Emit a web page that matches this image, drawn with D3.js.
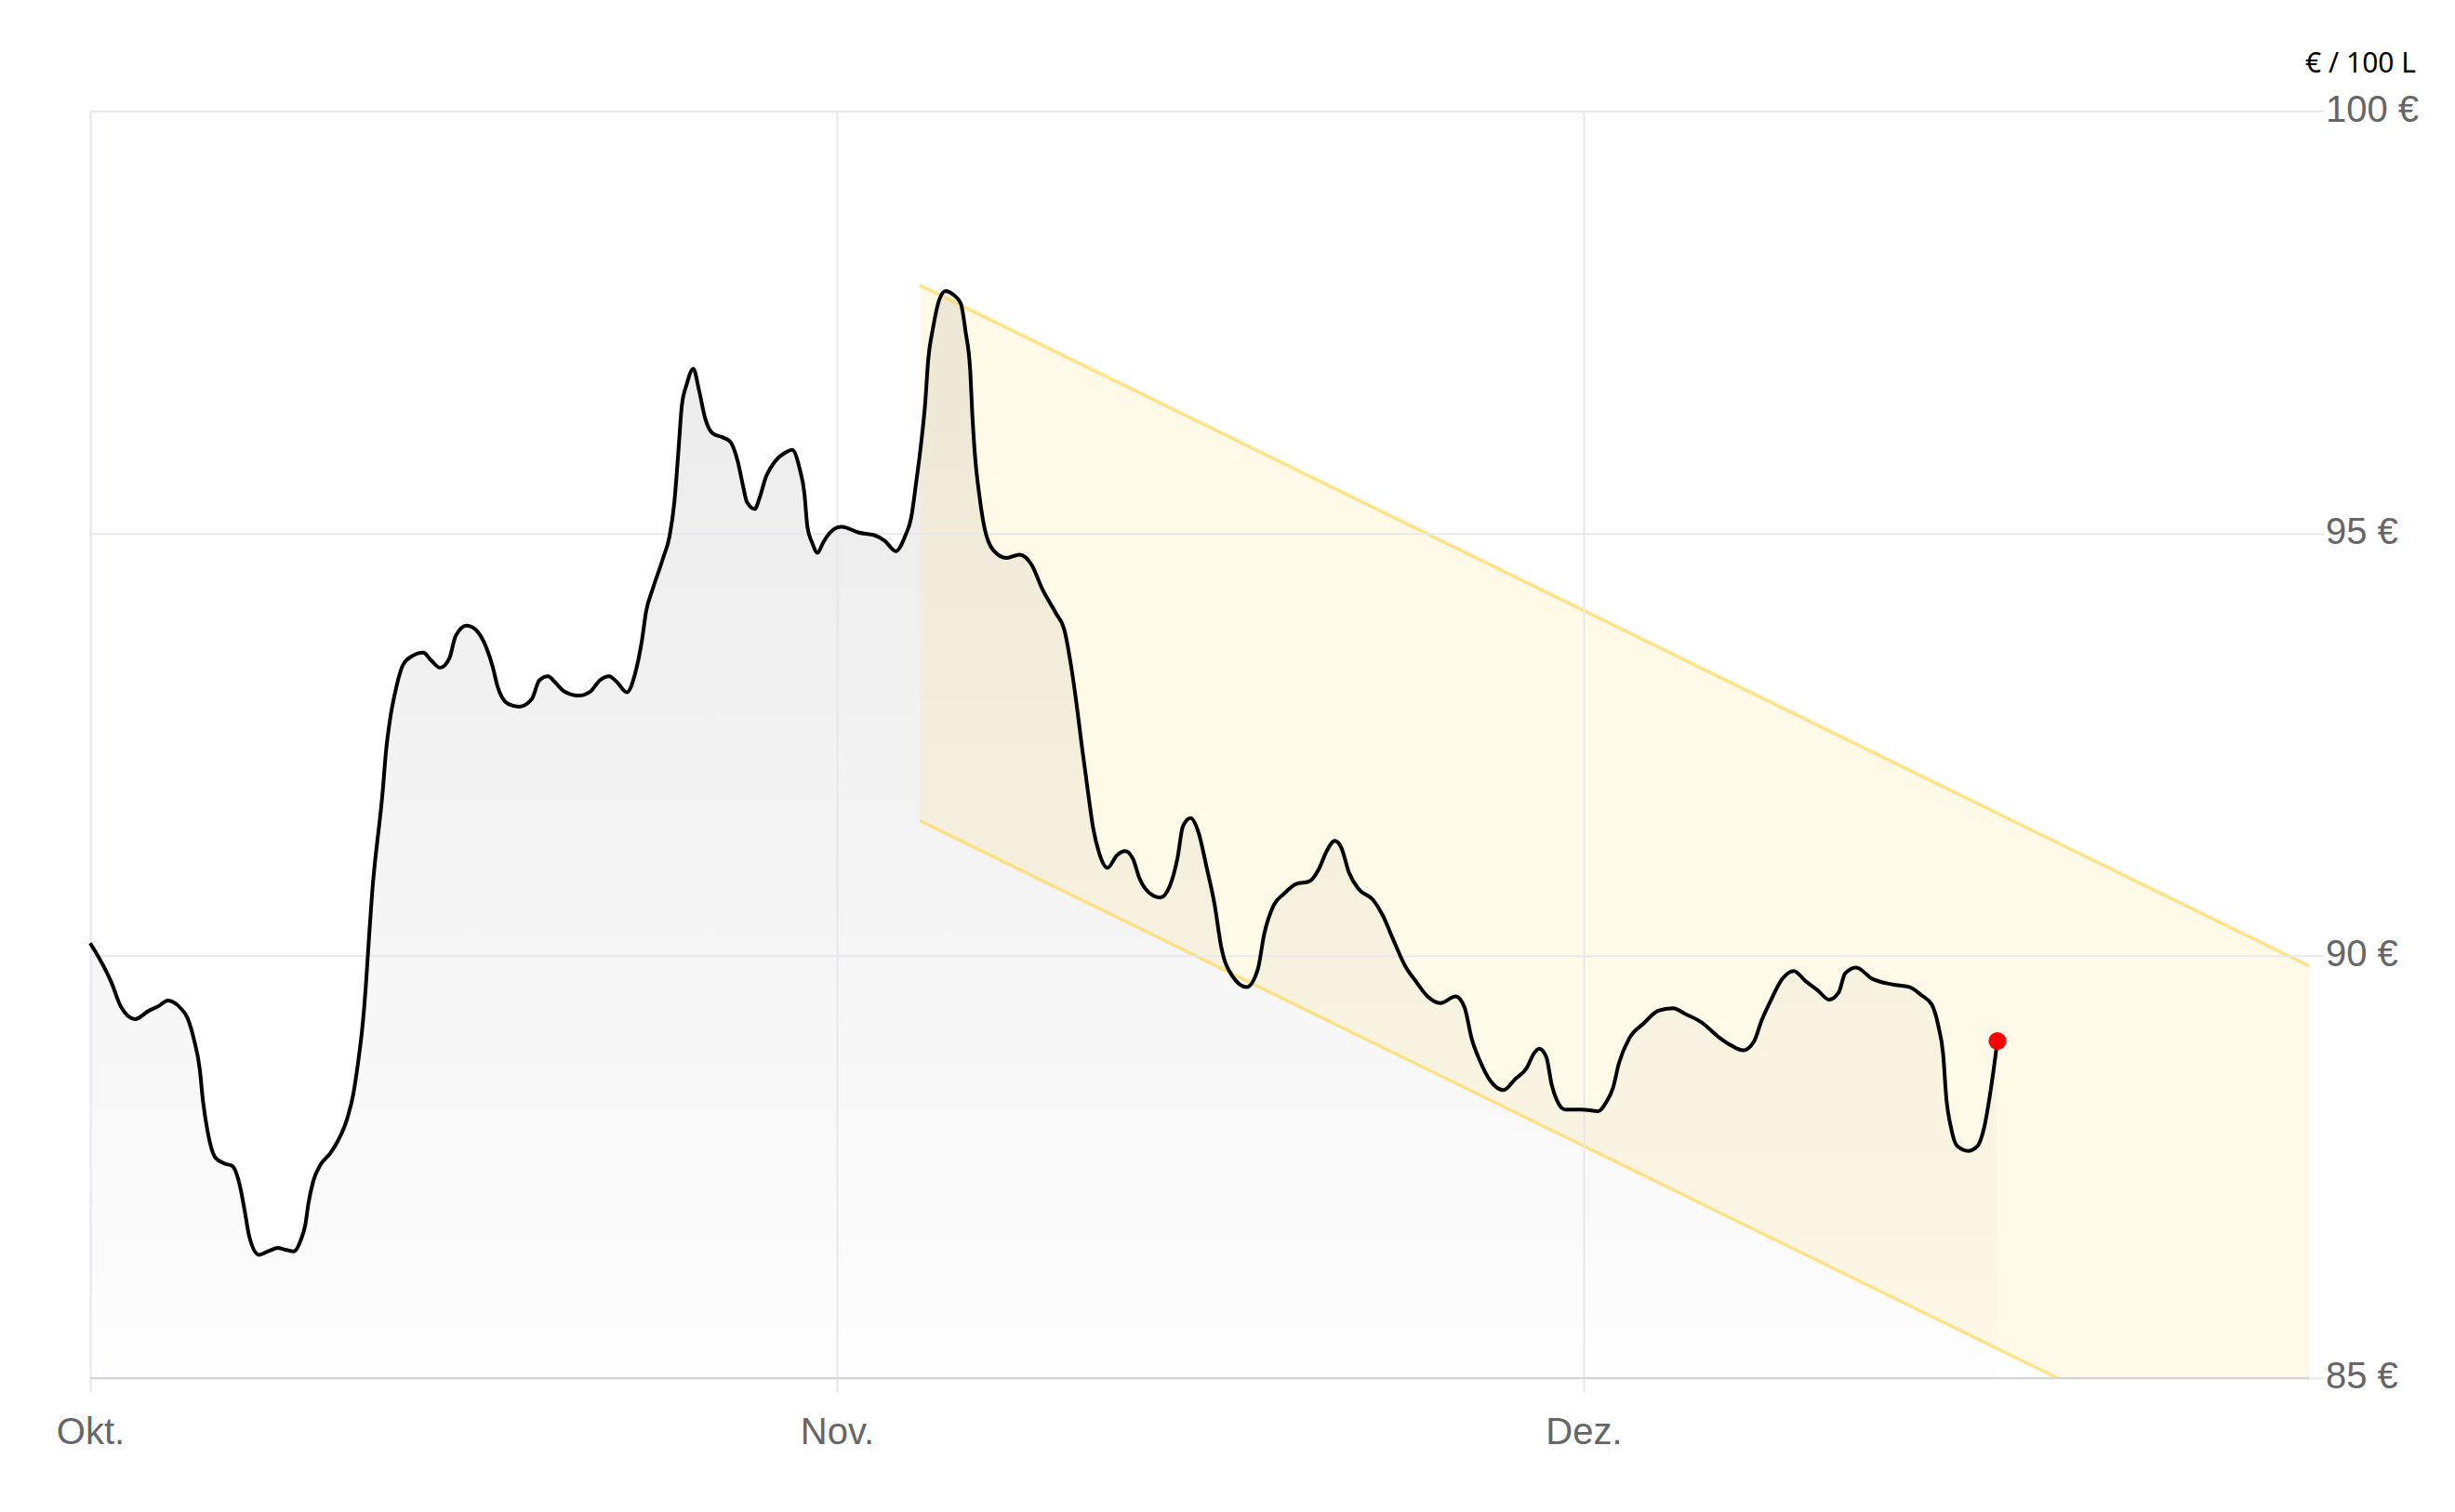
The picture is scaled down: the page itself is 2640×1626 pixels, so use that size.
<!DOCTYPE html>

<head>
  <meta charset="utf-8">
  <script src="https://d3js.org/d3.v7.min.js"></script>
  <style>
    body {
      margin: 0;
      background-color: #fff;
    }

    .tick text {
      font-family: "Liberation Sans", Arial, sans-serif;
      font-size: 40px;
      fill: #666;
    }

    .grid line {
      stroke: #e7e7ec;
      stroke-width: 2;
    }
  </style>
</head>

<body>
  <div id="graph"></div>
  <script>
    // trading day index (22 per month) and price in € / 100 L
    var dayIdx = [
      0, 0.63, 0.90, 1.32, 1.73, 2.00, 2.29, 2.64, 2.87, 3.05,
      3.23, 3.32, 3.46, 3.69, 3.96, 4.19, 4.42, 4.56, 4.69, 4.97,
      5.29, 5.52, 5.75, 6.00, 6.20, 6.34, 6.43, 6.57, 6.79, 7.07,
      7.30, 7.57, 7.75, 7.89, 8.03, 8.12, 8.21, 8.30,
      8.62, 8.71, 8.85, 9.03, 9.21, 9.49, 9.81, 10.04, 10.31, 10.58,
      10.77, 11.09, 11.36, 11.68, 11.86, 12.00, 12.32, 12.64, 13.01, 13.23,
      13.49, 13.69, 13.96, 14.38, 14.74, 15.01, 15.29, 15.52, 15.81, 16.06,
      16.25, 16.38, 16.57, 16.88, 17.07, 17.21, 17.32, 17.43, 17.57, 17.77,
      17.94, 18.12, 18.35, 18.62, 18.85, 19.08, 19.24, 19.35, 19.58, 19.72,
      19.90, 20.17, 20.49, 20.68, 20.90, 21.04, 21.13, 21.27, 21.43, 21.59,
      21.82, 22.00,
      22.14, 22.64, 23.10, 23.42, 23.73, 24.01, 24.19, 24.33, 24.47, 24.60,
      24.69, 24.83, 25.01, 25.20, 25.42, 25.65, 25.79, 25.93, 25.99, 26.06,
      26.20, 26.34, 26.61,
      27.00, 27.38, 27.75, 28.04, 28.46, 28.70, 28.88, 29.07, 29.21, 29.40,
      29.55, 29.73, 29.97, 30.25, 30.49, 30.72, 30.91, 31.19, 31.53, 31.81,
      32.04, 32.19, 32.42, 32.66, 32.89, 33.13, 33.32, 33.65, 34.07, 34.40,
      34.59, 34.87, 35.16, 35.53, 35.91, 36.19, 36.43, 36.67, 36.86, 37.09,
      37.37, 37.80, 38.08, 38.36, 38.74, 39.07, 39.40, 39.78, 40.23, 40.49,
      40.70, 40.94, 41.25, 41.64, 41.98, 42.32, 42.53, 42.69, 42.90, 43.06,
      43.21, 43.45, 43.94, 44.43, 44.67, 44.86, 45.04, 45.34, 45.77, 46.20,
      46.63, 47.00, 47.48, 47.97, 48.34, 48.70, 49.01, 49.25, 49.50, 49.86,
      50.19, 50.54, 50.90, 51.23, 51.52, 51.70, 52.03, 52.49, 53.10, 53.59,
      53.96, 54.26, 54.45, 54.59, 54.69, 54.81, 55.00, 55.34, 55.61, 55.79,
      56.00, 56.19
    ];

    var price = [
      90.15, 89.68, 89.40, 89.25, 89.35, 89.40, 89.47, 89.39, 89.26, 89.02,
      88.65, 88.29, 87.92, 87.61, 87.54, 87.51, 87.26, 86.96, 86.67, 86.46,
      86.51, 86.54, 86.52, 86.50, 86.63, 86.82, 87.07, 87.33, 87.53, 87.66,
      87.81, 88.07, 88.36, 88.73, 89.20, 89.64, 90.19, 90.71,
      91.96, 92.40, 92.84, 93.20, 93.44, 93.55, 93.59, 93.50, 93.41, 93.52,
      93.79, 93.91, 93.86, 93.64, 93.42, 93.19, 92.98, 92.95, 93.04, 93.26,
      93.31, 93.24, 93.13, 93.08, 93.13, 93.26, 93.31, 93.24, 93.12, 93.35,
      93.72, 94.08, 94.34, 94.71, 94.97, 95.37, 95.92, 96.51, 96.76, 96.95,
      96.69, 96.36, 96.18, 96.14, 96.09, 95.85, 95.55, 95.37, 95.29, 95.42,
      95.66, 95.85, 95.96, 95.99, 95.77, 95.48, 95.08, 94.89, 94.77, 94.89,
      95.02, 95.07,
      95.08, 95.01, 94.98, 94.91, 94.79, 94.97, 95.19, 95.59, 96.03, 96.54,
      97.06, 97.43, 97.76, 97.87, 97.83, 97.72, 97.39, 96.91, 96.40, 95.96,
      95.44, 95.08, 94.80,
      94.71, 94.75, 94.62, 94.35, 94.05, 93.86, 93.48, 92.95, 92.50, 91.93,
      91.51, 91.21, 91.04, 91.19, 91.24, 91.15, 90.92, 90.75, 90.69, 90.83,
      91.17, 91.53, 91.63, 91.45, 91.05, 90.60, 90.11, 89.76, 89.63, 89.84,
      90.26, 90.60, 90.73, 90.85, 90.88, 91.02, 91.24, 91.36, 91.28, 90.98,
      90.79, 90.66, 90.48, 90.22, 89.88, 89.69, 89.52, 89.44, 89.52, 89.39,
      89.02, 88.76, 88.52, 88.41, 88.54, 88.67, 88.84, 88.90, 88.80, 88.47,
      88.29, 88.18, 88.18, 88.16, 88.27, 88.43, 88.73, 89.02, 89.20, 89.35,
      89.38, 89.31, 89.21, 89.04, 88.94, 88.88, 88.98, 89.24, 89.46, 89.73,
      89.82, 89.70, 89.59, 89.48, 89.57, 89.79, 89.86, 89.73, 89.66, 89.63,
      89.53, 89.42, 89.17, 88.84, 88.29, 87.99, 87.75, 87.69, 87.75, 87.95,
      88.43, 88.99
    ];

    var monthTicks = [0, 22, 44];
    var monthLabels = ["Okt.", "Nov.", "Dez."];
    var priceTicks = [85, 90, 95, 100];

    // trend channel: [start, end] in trading days, upper / lower bound in €
    var channelIdx = [24.44, 65.37];
    var channelUpper = [97.94, 89.88];
    var channelLower = [91.60, 83.54];

    var width = 2640;
    var height = 1626;
    var xmin = 97, xmax = 2483;
    var ytop = 119.5, ybottom = 1482;
    var tickLen = 16;

    var svg = d3.select("#graph").append("svg")
      .attr("width", width)
      .attr("height", height);

    var x = d3.scaleLinear()
      .domain([0, 65.37])
      .range([xmin, xmax]);

    var y = d3.scaleLinear()
      .domain([85, 100])
      .range([ybottom, ytop]);

    var data = d3.zip(dayIdx, price).slice(0, Math.min(dayIdx.length, price.length));

    var defs = svg.append("defs");
    var grad = defs.append("linearGradient")
      .attr("id", "areaGrad")
      .attr("gradientUnits", "userSpaceOnUse")
      .attr("x1", 0).attr("x2", 0)
      .attr("y1", y(98)).attr("y2", y(85));
    grad.append("stop").attr("offset", 0).attr("stop-color", "#eaeaea");
    grad.append("stop").attr("offset", 1).attr("stop-color", "#fdfdfd");

    defs.append("clipPath").attr("id", "plotClip")
      .append("rect")
      .attr("x", xmin).attr("y", ytop)
      .attr("width", xmax - xmin).attr("height", ybottom - ytop);

    var curve = d3.curveMonotoneX;

    // gray area under the price line
    var area = d3.area()
      .x(d => x(d[0]))
      .y0(y(85))
      .y1(d => y(d[1]))
      .curve(curve);

    svg.append("path")
      .datum(data)
      .attr("d", area)
      .attr("fill", "url(#areaGrad)");

    // channel band
    var band = d3.zip(channelIdx, channelLower, channelUpper);
    var gBand = svg.append("g").attr("clip-path", "url(#plotClip)");

    gBand.append("path")
      .datum(band)
      .attr("d", d3.area().x(d => x(d[0])).y0(d => y(d[1])).y1(d => y(d[2])))
      .attr("fill", "#ffd54f")
      .attr("fill-opacity", 0.13);

    // grid / axes
    svg.append("g")
      .attr("class", "grid")
      .attr("transform", "translate(" + (xmax + tickLen) + ",0)")
      .call(d3.axisRight(y)
        .tickValues(priceTicks)
        .tickSize(-(xmax + tickLen - xmin))
        .tickPadding(2)
        .tickFormat(d => d + " €"))
      .call(g => g.select(".domain").remove())
      .call(g => g.selectAll(".tick text").attr("dy", "0.27em"));

    svg.append("g")
      .attr("class", "grid")
      .attr("transform", "translate(0," + (ybottom + tickLen) + ")")
      .call(d3.axisBottom(x)
        .tickValues(monthTicks)
        .tickSize(-(ybottom + tickLen - ytop))
        .tickPadding(27)
        .tickFormat((d, i) => monthLabels[i]))
      .call(g => g.select(".domain").remove());

    svg.append("line")
      .attr("x1", xmin).attr("x2", xmax)
      .attr("y1", y(85)).attr("y2", y(85))
      .attr("stroke", "#d3d3d9")
      .attr("stroke-width", 2);

    // channel lines
    [channelUpper, channelLower].forEach(function(vals) {
      gBand.append("path")
        .datum(d3.zip(channelIdx, vals))
        .attr("d", d3.line().x(d => x(d[0])).y(d => y(d[1])))
        .attr("fill", "none")
        .attr("stroke", "#ffd54f")
        .attr("stroke-opacity", 0.65)
        .attr("stroke-width", 3.5);
    });

    // price line
    svg.append("path")
      .datum(data)
      .attr("d", d3.line().x(d => x(d[0])).y(d => y(d[1])).curve(curve))
      .attr("fill", "none")
      .attr("stroke", "#000")
      .attr("stroke-width", 4)
      .attr("stroke-linejoin", "round");

    var last = data[data.length - 1];
    svg.append("circle")
      .attr("cx", x(last[0]))
      .attr("cy", y(last[1]))
      .attr("r", 9.5)
      .attr("fill", "#ff0000");

    // unit label
    svg.append("text")
      .attr("x", 2598)
      .attr("y", 78)
      .attr("text-anchor", "end")
      .style("font-family", "'Noto Sans', 'Open Sans', sans-serif")
      .style("font-size", "30px")
      .style("fill", "#000")
      .text("€ / 100 L");
  </script>
</body>
